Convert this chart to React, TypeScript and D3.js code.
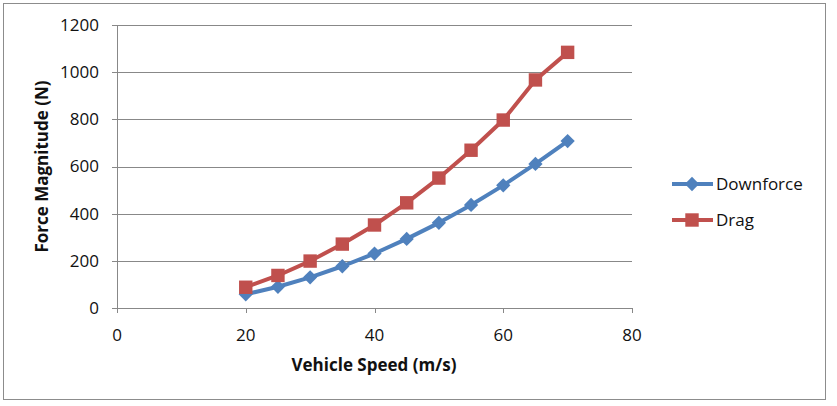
import { useEffect, useRef } from 'react';
import * as d3 from 'd3';

// speeds (m/s)
const speeds = [20, 25, 30, 35, 40, 45, 50, 55, 60, 65, 70];
// forces (N)
const downforce = [58, 90, 130, 177, 231, 293, 361, 437, 520, 611, 708];
const drag = [88, 138, 199, 271, 352, 446, 551, 669, 797, 967, 1084];

const xTicks = [0, 20, 40, 60, 80];
const yTicks = [0, 200, 400, 600, 800, 1000, 1200];

const seriesNames = ['Downforce', 'Drag'];
const seriesColors = ['#4F81BD', '#C0504D'];

const W = 837;
const H = 406;
const FONT = '"Open Sans", "Liberation Sans", sans-serif';
const FS = '17px';

const App = () => {
  const svgRef = useRef<SVGSVGElement>(null);

  useEffect(() => {
    if (!svgRef.current) return;
    const svg = d3.select(svgRef.current);
    svg.selectAll('*').remove();

    // outer frame
    svg.append('rect')
      .attr('x', 3.5).attr('y', 3.5)
      .attr('width', 822).attr('height', 396)
      .attr('fill', 'white')
      .attr('stroke', '#8c8c8c')
      .attr('stroke-width', 1);

    const x = d3.scaleLinear().domain([0, 80]).range([117, 632]);
    const y = d3.scaleLinear().domain([0, 1200]).range([308, 25]);

    // gridlines
    svg.append('g')
      .selectAll('line')
      .data(yTicks.filter(t => t > 0))
      .enter()
      .append('line')
      .attr('x1', x(0)).attr('x2', x(80))
      .attr('y1', d => Math.round(y(d)) + 0.5)
      .attr('y2', d => Math.round(y(d)) + 0.5)
      .attr('stroke', '#888')
      .attr('stroke-width', 1);

    // axes
    const axisColor = '#888';
    svg.append('line')
      .attr('x1', x(0) + 0.5).attr('x2', x(0) + 0.5)
      .attr('y1', y(1200)).attr('y2', y(0))
      .attr('stroke', axisColor);
    svg.append('line')
      .attr('x1', x(0)).attr('x2', x(80))
      .attr('y1', Math.round(y(0)) + 0.5).attr('y2', Math.round(y(0)) + 0.5)
      .attr('stroke', axisColor);

    // y ticks + labels
    const yt = svg.append('g').selectAll('g').data(yTicks).enter().append('g');
    yt.append('line')
      .attr('x1', x(0) - 5).attr('x2', x(0))
      .attr('y1', d => Math.round(y(d)) + 0.5)
      .attr('y2', d => Math.round(y(d)) + 0.5)
      .attr('stroke', axisColor);
    yt.append('text')
      .attr('x', 99)
      .attr('y', d => y(d))
      .attr('dy', '0.35em')
      .attr('text-anchor', 'end')
      .style('font-family', FONT)
      .style('font-size', FS)
      .style('fill', '#111')
      .text(d => d);

    // x ticks + labels
    const xt = svg.append('g').selectAll('g').data(xTicks).enter().append('g');
    xt.append('line')
      .attr('x1', d => Math.round(x(d)) + 0.5)
      .attr('x2', d => Math.round(x(d)) + 0.5)
      .attr('y1', y(0)).attr('y2', y(0) + 5)
      .attr('stroke', axisColor);
    xt.append('text')
      .attr('x', d => x(d))
      .attr('y', 341)
      .attr('text-anchor', 'middle')
      .style('font-family', FONT)
      .style('font-size', FS)
      .style('fill', '#111')
      .text(d => d);

    // axis titles
    svg.append('text')
      .attr('x', 374)
      .attr('y', 371)
      .attr('text-anchor', 'middle')
      .style('font-family', FONT)
      .style('font-size', FS)
      .style('font-weight', 'bold')
      .style('fill', '#111')
      .text('Vehicle Speed (m/s)');

    svg.append('text')
      .attr('transform', `translate(48, ${(y(0) + y(1200)) / 2}) rotate(-90)`)
      .attr('text-anchor', 'middle')
      .style('font-family', FONT)
      .style('font-size', FS)
      .style('font-weight', 'bold')
      .style('fill', '#111')
      .text('Force Magnitude (N)');

    const line = d3.line<[number, number]>()
      .x(d => x(d[0]))
      .y(d => y(d[1]));

    const diamond = d3.symbol().type(d3.symbolDiamond2).size(130);
    const square = d3.symbol().type(d3.symbolSquare).size(180);
    const marks = [diamond, square];

    [downforce, drag].forEach((vals, i) => {
      const pts = speeds.map((s, j) => [s, vals[j]] as [number, number]);
      const g = svg.append('g');
      g.append('path')
        .attr('d', line(pts) as string)
        .attr('fill', 'none')
        .attr('stroke', seriesColors[i])
        .attr('stroke-width', 4)
        .attr('stroke-linejoin', 'round');
      g.selectAll('path.m')
        .data(pts)
        .enter()
        .append('path')
        .attr('class', 'm')
        .attr('transform', d => `translate(${x(d[0])},${y(d[1])})`)
        .attr('d', marks[i]() as string)
        .attr('fill', seriesColors[i]);
    });

    // legend
    const legend = svg.append('g').selectAll('g')
      .data(seriesNames)
      .enter()
      .append('g')
      .attr('transform', (_d, i) => `translate(672, ${184 + i * 36})`);
    legend.append('line')
      .attr('x1', 0).attr('x2', 41)
      .attr('y1', 0).attr('y2', 0)
      .attr('stroke', (_d, i) => seriesColors[i])
      .attr('stroke-width', 4);
    legend.append('path')
      .attr('transform', 'translate(20,0)')
      .attr('d', (_d, i) => marks[i]() as string)
      .attr('fill', (_d, i) => seriesColors[i]);
    legend.append('text')
      .attr('x', 44)
      .attr('y', 0)
      .attr('dy', '0.35em')
      .style('font-family', FONT)
      .style('font-size', FS)
      .style('fill', '#111')
      .text(d => d);
  }, []);

  return (
    <svg
      ref={svgRef}
      width={W}
      height={H}
      style={{ position: 'absolute', left: 0, top: 0, display: 'block', background: 'white' }}
    ></svg>
  );
};

export default App;
